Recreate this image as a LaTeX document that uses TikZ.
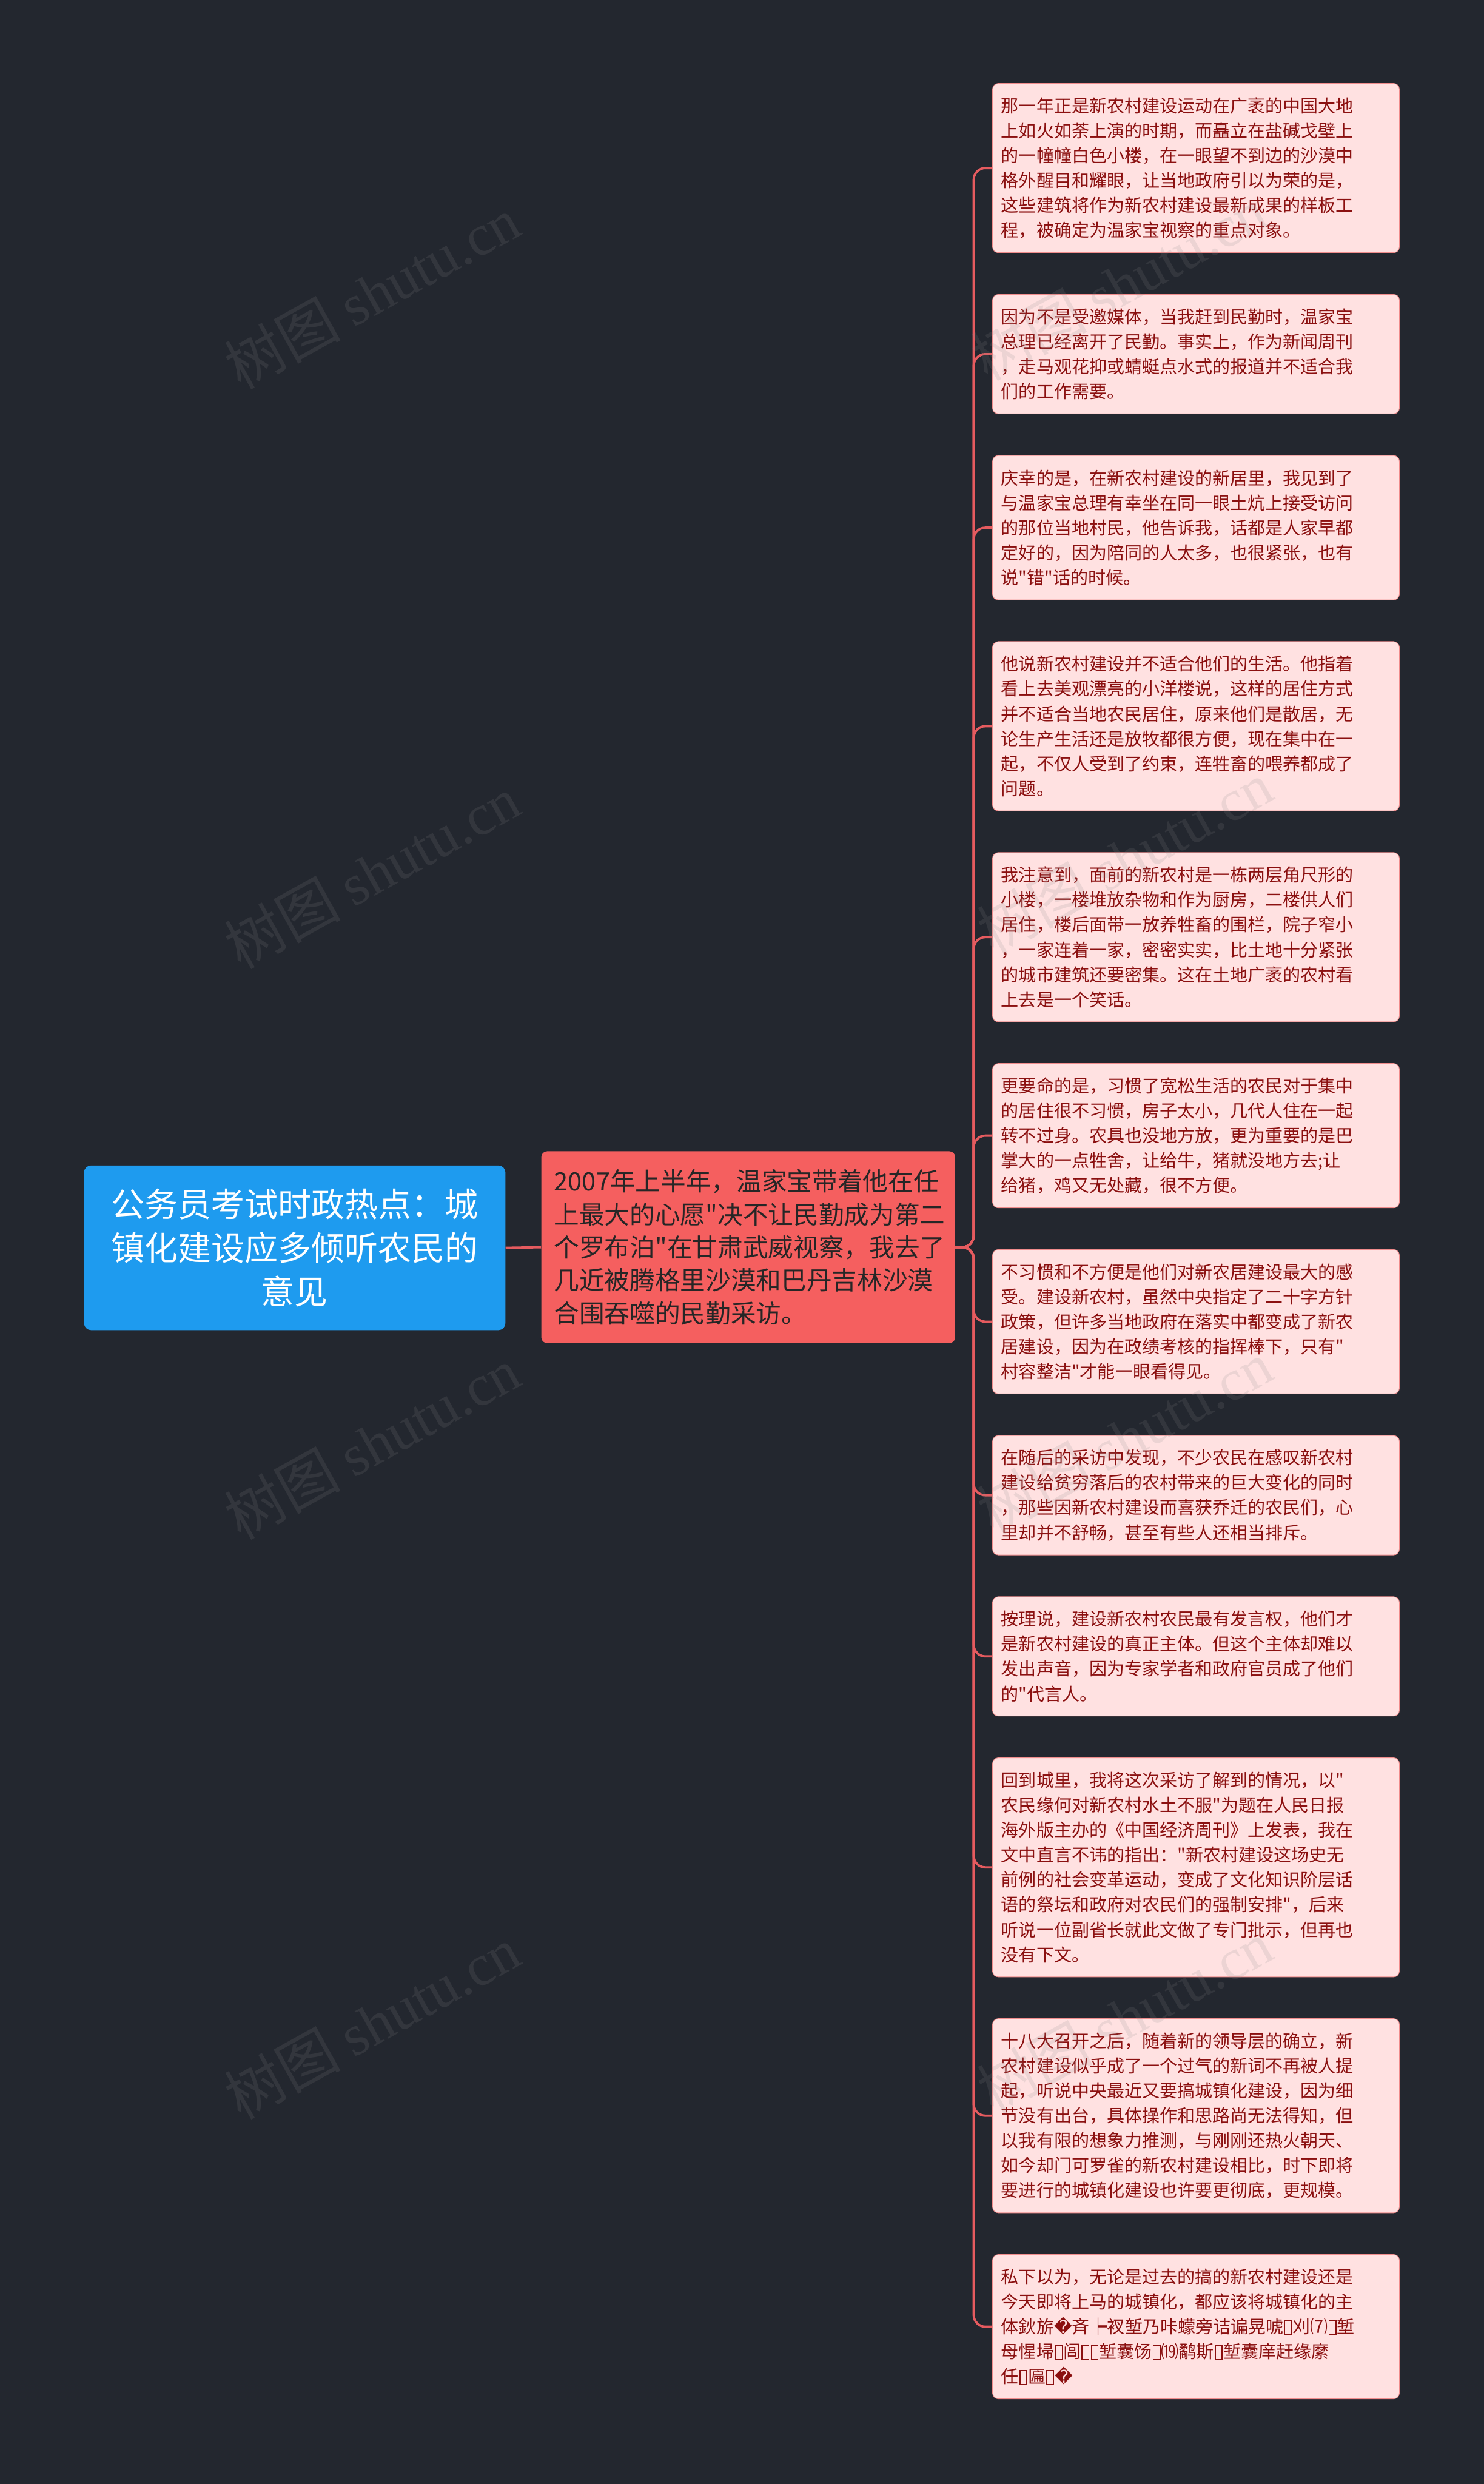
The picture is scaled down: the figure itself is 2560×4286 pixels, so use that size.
\documentclass[tikz,border=0pt]{standalone}
\usepackage{fontspec}
\setmainfont{Noto Sans CJK SC}[Ligatures=TeXOff]
\newfontfamily\djv{DejaVu Sans}[Ligatures=TeXOff]
\newfontfamily\wmfont{Liberation Serif}
\usetikzlibrary{calc}
\definecolor{bg}{HTML}{23272F}
\definecolor{leaffill}{HTML}{FFE1E1}
\definecolor{leafdraw}{HTML}{F08C8C}
\definecolor{leaftext}{HTML}{8B1010}
\definecolor{conncol}{HTML}{E55B5F}
\definecolor{rootfill}{HTML}{1E9BEF}
\definecolor{mainfill}{HTML}{F55F5F}
\definecolor{maintext}{HTML}{262626}
\definecolor{wmcol}{HTML}{8A8A8A}
\newcommand\tofu{\kern0.04em\raisebox{-0.04em}{\setlength\fboxsep{0pt}\setlength\fboxrule{0.05em}\fbox{\rule{0pt}{0.74em}\hspace{0.34em}}}\kern0.04em}
\newcommand\badch{{\djv �}}
\tikzset{
  leaf/.style={draw=leafdraw, line width=0.5pt, fill=leaffill, rounded corners=5pt,
    text width=336pt, inner xsep=7.5pt, inner ysep=0pt, align=left, anchor=west,
    text=leaftext, font=\fontsize{15.2pt}{21.5pt}\selectfont},
  mainnode/.style={fill=mainfill, rounded corners=5pt, text width=335pt, inner xsep=11pt,
    inner ysep=0pt, minimum height=165.5pt, align=left, text=maintext,
    font=\fontsize{21.8pt}{28.5pt}\selectfont},
  rootnode/.style={fill=rootfill, rounded corners=6pt, text width=340pt, inner xsep=11.75pt,
    inner ysep=0pt, minimum height=142pt, align=center, text=white,
    font=\fontsize{28.8pt}{37.5pt}\selectfont},
  link/.style={draw=conncol, line width=2pt, rounded corners=10pt},
  wm/.style={text=wmcol, opacity=0.16, rotate=29, font=\fontsize{50pt}{60pt}\selectfont}
}
\begin{document}
\begin{tikzpicture}[x=0.5pt,y=-0.5pt]
\fill[bg] (0,0) rectangle (2560,4286);
\useasboundingbox (0,0) rectangle (2560,4286);

\node[rootnode] (root) at (508.5,2153) {公务员考试时政热点：城\\镇化建设应多倾听农民的\\意见};

\node[mainnode] (main) at (1291,2152) {2007年上半年，温家宝带着他在任\\上最大的心愿"决不让民勤成为第二\\个罗布泊"在甘肃武威视察，我去了\\几近被腾格里沙漠和巴丹吉林沙漠\\合围吞噬的民勤采访。};

\node[leaf, minimum height=146pt] (b1) at (1712,290) {那一年正是新农村建设运动在广袤的中国大地\\上如火如荼上演的时期，而矗立在盐碱戈壁上\\的一幢幢白色小楼，在一眼望不到边的沙漠中\\格外醒目和耀眼，让当地政府引以为荣的是，\\这些建筑将作为新农村建设最新成果的样板工\\程，被确定为温家宝视察的重点对象。};

\node[leaf, minimum height=103pt] (b2) at (1712,611) {因为不是受邀媒体，当我赶到民勤时，温家宝\\总理已经离开了民勤。事实上，作为新闻周刊\\，走马观花抑或蜻蜓点水式的报道并不适合我\\们的工作需要。};

\node[leaf, minimum height=124.5pt] (b3) at (1712,910.5) {庆幸的是，在新农村建设的新居里，我见到了\\与温家宝总理有幸坐在同一眼土炕上接受访问\\的那位当地村民，他告诉我，话都是人家早都\\定好的，因为陪同的人太多，也很紧张，也有\\说"错"话的时候。};

\node[leaf, minimum height=146pt] (b4) at (1712,1253) {他说新农村建设并不适合他们的生活。他指着\\看上去美观漂亮的小洋楼说，这样的居住方式\\并不适合当地农民居住，原来他们是散居，无\\论生产生活还是放牧都很方便，现在集中在一\\起，不仅人受到了约束，连牲畜的喂养都成了\\问题。};

\node[leaf, minimum height=146pt] (b5) at (1712,1617) {我注意到，面前的新农村是一栋两层角尺形的\\小楼，一楼堆放杂物和作为厨房，二楼供人们\\居住，楼后面带一放养牲畜的围栏，院子窄小\\，一家连着一家，密密实实，比土地十分紧张\\的城市建筑还要密集。这在土地广袤的农村看\\上去是一个笑话。};

\node[leaf, minimum height=124.5pt] (b6) at (1712,1959.5) {更要命的是，习惯了宽松生活的农民对于集中\\的居住很不习惯，房子太小，几代人住在一起\\转不过身。农具也没地方放，更为重要的是巴\\掌大的一点牲舍，让给牛，猪就没地方去;让\\给猪，鸡又无处藏，很不方便。};

\node[leaf, minimum height=124.5pt] (b7) at (1712,2280.5) {不习惯和不方便是他们对新农居建设最大的感\\受。建设新农村，虽然中央指定了二十字方针\\政策，但许多当地政府在落实中都变成了新农\\居建设，因为在政绩考核的指挥棒下，只有"\\村容整洁"才能一眼看得见。};

\node[leaf, minimum height=103pt] (b8) at (1712,2580) {在随后的采访中发现，不少农民在感叹新农村\\建设给贫穷落后的农村带来的巨大变化的同时\\，那些因新农村建设而喜获乔迁的农民们，心\\里却并不舒畅，甚至有些人还相当排斥。};

\node[leaf, minimum height=103pt] (b9) at (1712,2858) {按理说，建设新农村农民最有发言权，他们才\\是新农村建设的真正主体。但这个主体却难以\\发出声音，因为专家学者和政府官员成了他们\\的"代言人。};

\node[leaf, minimum height=189pt] (b10) at (1712,3222) {回到城里，我将这次采访了解到的情况，以"\\农民缘何对新农村水土不服"为题在人民日报\\海外版主办的《中国经济周刊》上发表，我在\\文中直言不讳的指出："新农村建设这场史无\\前例的社会变革运动，变成了文化知识阶层话\\语的祭坛和政府对农民们的强制安排"，后来\\听说一位副省长就此文做了专门批示，但再也\\没有下文。};

\node[leaf, minimum height=167.5pt] (b11) at (1712,3650.5) {十八大召开之后，随着新的领导层的确立，新\\农村建设似乎成了一个过气的新词不再被人提\\起，听说中央最近又要搞城镇化建设，因为细\\节没有出台，具体操作和思路尚无法得知，但\\以我有限的想象力推测，与刚刚还热火朝天、\\如今却门可罗雀的新农村建设相比，时下即将\\要进行的城镇化建设也许要更彻底，更规模。};

\node[leaf, minimum height=124.5pt] (b12) at (1712,4014.5) {私下以为，无论是过去的搞的新农村建设还是\\今天即将上马的城镇化，都应该将城镇化的主\\体鈥旂\badch 斉┝衩堑乃咔蠓旁诘谝晃唬\tofu 刈⑺\tofu 堑\\母惺埽\tofu 闾\tofu\tofu 堑囊饧\tofu ⒆鹬斯\tofu 堑囊庠赶缘縻\\任\tofu 匾\tofu\badch};

\coordinate (tk) at (1680,2152);
\draw[link] (root.east) -- (main.west);
\foreach \i in {1,...,12}{
  \draw[link] (main.east) -- (main.east -| tk) |- (b\i.west);
}

\node[wm] (w1) at (642,505) {树图 {\wmfont shutu.cn}};
\node[wm] (w2) at (642,1505) {树图 {\wmfont shutu.cn}};
\node[wm] (w3) at (642,2490) {树图 {\wmfont shutu.cn}};
\node[wm] (w4) at (642,3490) {树图 {\wmfont shutu.cn}};
\node[wm] (w5) at (1930,490) {树图 {\wmfont shutu.cn}};
\node[wm] (w6) at (1940,1480) {树图 {\wmfont shutu.cn}};
\node[wm] (w7) at (1940,2480) {树图 {\wmfont shutu.cn}};
\node[wm] (w8) at (1940,3480) {树图 {\wmfont shutu.cn}};
\end{tikzpicture}
\end{document}
